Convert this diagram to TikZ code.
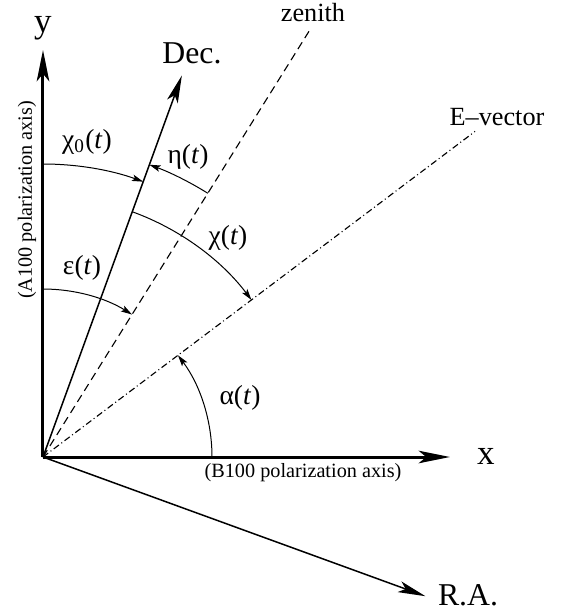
\documentclass[tikz,border=0pt]{standalone}
\usepackage{fontspec}
\setmainfont{Liberation Serif}
\usepackage{tikz}
\usetikzlibrary{arrows.meta, positioning, calc}

\tikzset{
  axis/.style={line width=1.2pt, -{Stealth[length=12.5pt, width=5pt, inset=3pt]}},
  frame/.style={line width=0.6pt, -{Stealth[length=11pt, width=4.5pt, inset=2.6pt]}},
  anglearc/.style={line width=0.4pt, -{Stealth[length=4.5pt, width=2.6pt, inset=1pt]}},
  zenline/.style={line width=0.45pt, dash pattern=on 3.2pt off 2pt},
  evline/.style={line width=0.45pt, dash pattern=on 2.6pt off 1.2pt on 0.4pt off 1.2pt},
  biglabel/.style={inner sep=0pt, font=\fontsize{14}{16}\selectfont},
  dirlabel/.style={inner sep=0pt, font=\fontsize{12.7}{15}\selectfont},
  linelabel/.style={inner sep=0pt, font=\fontsize{10.5}{12}\selectfont},
  anglelabel/.style={inner sep=0pt, font=\fontsize{11}{13}\selectfont},
  axisnote/.style={inner sep=0pt, font=\fontsize{8.1}{10}\selectfont}
}

\begin{document}
\begin{tikzpicture}[x=0.4pt, y=0.4pt]
  \useasboundingbox (-43,-158) rectangle (527,457);

  % Origin and line ends
  \coordinate (O) at (0,0);
  \coordinate (ytip) at (90:407);
  \coordinate (xtip) at (0:407);
  \coordinate (dectip) at (70:406);
  \coordinate (ratip) at (-20:407);
  \coordinate (zenend) at (58:505);
  \coordinate (evend) at (37:541);

  % Polarization axes
  \draw[axis] (O) -- (ytip);
  \draw[axis] (O) -- (xtip);

  % Sky frame
  \draw[frame] (O) -- (dectip);
  \draw[frame] (O) -- (ratip);

  % Zenith and E-vector
  \draw[zenline] (O) -- (zenend);
  \draw[evline] (O) -- (evend);

  % Angles
  \foreach \r/\a/\b in {293/90/70, 311/58/70, 261/70/37, 168/90/58, 169/0/37}{
    \draw[anglearc] (\a:\r) arc[start angle=\a, end angle=\b, radius=\r];
  }

  % Labels
  \node[biglabel] (ylab) at (0,429) {y};
  \node[biglabel] (xlab) at (443,1) {x};
  \node[dirlabel] (declab) at (149,404) {Dec.};
  \node[dirlabel] (ralab) at (425,-138) {R.A.};
  \node[linelabel] (zenlab) at (270,444) {zenith};
  \node[linelabel] (evlab) at (454,340) {E\textendash vector};
  \node[axisnote] (blab) at (260,-16) {(B100 polarization axis)};
  \node[axisnote, rotate=90] (alab) at (-16,257) {(A100 polarization axis)};

  \node[anglelabel] (chizlab) at (44,315) {χ\textsubscript{0}(\textit{t})};
  \node[anglelabel] (etalab) at (145,300) {η(\textit{t})};
  \node[anglelabel] (chilab) at (185,219) {χ(\textit{t})};
  \node[anglelabel] (epslab) at (39,189) {ε(\textit{t})};
  \node[anglelabel] (alphalab) at (197,59) {α(\textit{t})};
\end{tikzpicture}
\end{document}
